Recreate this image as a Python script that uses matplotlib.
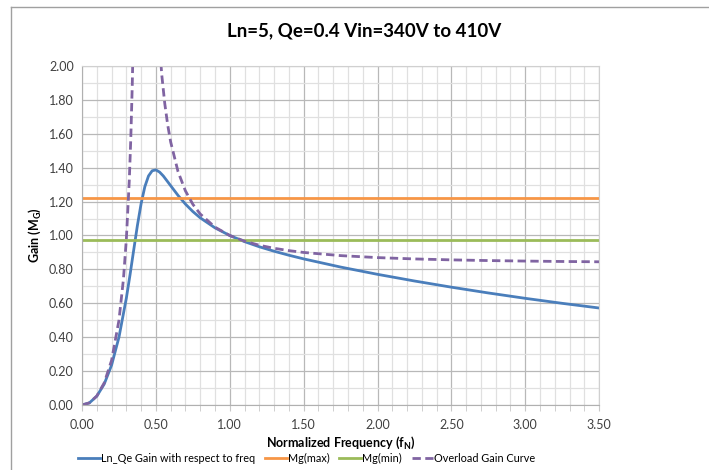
import numpy as np
import matplotlib.pyplot as plt
from matplotlib.lines import Line2D

# Data
fn_gain = [0, 0.05, 0.1, 0.15, 0.2, 0.25, 0.3, 0.325, 0.35, 0.375, 0.4, 0.425,
           0.45, 0.475, 0.5, 0.525, 0.55, 0.6, 0.65, 0.7, 0.75, 0.8, 0.9, 1.0,
           1.1, 1.2, 1.3, 1.4, 1.5, 1.75, 2.0, 2.25, 2.5, 2.75, 3.0, 3.25, 3.5]
gain = [0, 0.0126, 0.0521, 0.1232, 0.2349, 0.4000, 0.6303, 0.7686, 0.9156,
        1.0602, 1.1884, 1.2874, 1.3513, 1.3820, 1.3868, 1.3741, 1.3513, 1.2938,
        1.2363, 1.1852, 1.1414, 1.1043, 1.0451, 1.0, 0.9638, 0.9335, 0.9072,
        0.8836, 0.8620, 0.8138, 0.7709, 0.7316, 0.6951, 0.6610, 0.6293, 0.5998,
        0.5722]

# overload (no-load) curve, two branches either side of the pole
fn_over_lo = [0, 0.05, 0.1, 0.15, 0.2, 0.25, 0.28, 0.3, 0.32, 0.33, 0.34, 0.35, 0.36]
over_lo = [0, 0.0127, 0.0532, 0.1301, 0.2632, 0.5, 0.7402, 0.9783, 1.3278,
           1.5710, 1.8864, 2.3113, 2.9137]
fn_over_hi = [0.5, 0.52, 0.54, 0.56, 0.58, 0.6, 0.65, 0.7, 0.75, 0.8, 0.9, 1.0,
              1.1, 1.2, 1.3, 1.4, 1.5, 1.75, 2.0, 2.25, 2.5, 2.75, 3.0, 3.25, 3.5]
over_hi = [2.5, 2.1722, 1.9451, 1.7786, 1.6516, 1.5517, 1.3762, 1.2629, 1.1842,
           1.1268, 1.0492, 1.0, 0.9665, 0.9424, 0.9245, 0.9108, 0.9, 0.8813,
           0.8696, 0.8617, 0.8562, 0.8521, 0.8491, 0.8467, 0.8448]

mg_max = 1.222
mg_min = 0.974
x_range = [0, 3.5]

plt.rcParams['font.family'] = ['Lato', 'DejaVu Sans']

fig = plt.figure(figsize=(7.09, 4.70), dpi=100)
ax = fig.add_axes([0.1157, 0.1383, 0.7293, 0.7213])

# grid
ax.set_xticks(np.arange(0, 3.51, 0.5))
ax.set_xticks(np.arange(0, 3.51, 0.1), minor=True)
ax.set_yticks(np.arange(0, 2.01, 0.2))
ax.set_yticks(np.arange(0, 2.01, 0.1), minor=True)
ax.grid(which='major', color='#b8b8b8', linewidth=0.9)
ax.grid(which='minor', color='#e0e0e0', linewidth=0.9)
ax.set_axisbelow(True)

ax.plot(fn_gain, gain, color='#4a7ebb', linewidth=2, label='Ln_Qe Gain with respect to freq')
ax.plot(x_range, [mg_max, mg_max], color='#f79646', linewidth=2, label='Mg(max)')
ax.plot(x_range, [mg_min, mg_min], color='#9bbb59', linewidth=2, label='Mg(min)')
ax.plot(fn_over_lo + [np.nan] + fn_over_hi, over_lo + [np.nan] + over_hi,
        color='#8064a2', linewidth=2, linestyle=(0, (3, 1.6)),
        label='Overload Gain Curve')

ax.set_xlim(0, 3.5)
ax.set_ylim(0, 2.0)
ax.xaxis.set_major_formatter(plt.FormatStrFormatter('%.2f'))
ax.yaxis.set_major_formatter(plt.FormatStrFormatter('%.2f'))
ax.tick_params(which='both', length=0, labelsize=9, colors='#404040', pad=6)
ax.tick_params(axis='x', which='both', length=4, color='#c8c8c8')
for s in ['top', 'right']:
    ax.spines[s].set_color('#d0d0d0')
for s in ['left', 'bottom']:
    ax.spines[s].set_color('#b0b0b0')

ax.set_xlabel('Normalized Frequency (f$_\\mathregular{N}$)', fontsize=9,
              fontweight='bold', labelpad=3)
ax.set_ylabel('Gain (M$_\\mathregular{G}$)', fontsize=9, fontweight='bold', labelpad=4)

fig.suptitle('Ln=5, Qe=0.4 Vin=340V to 410V', x=0.514, y=0.952,
             fontsize=13.5, fontweight='bold')

fig.legend(loc='center', bbox_to_anchor=(0.433, 0.024), ncol=4, frameon=False,
           fontsize=7.8, handlelength=2.0, columnspacing=0.9, handletextpad=0.1)

# outer chart border (partial, as in the screenshot)
fig.add_artist(Line2D([10.5 / 709, 1.0], [1 - 7 / 470, 1 - 7 / 470],
                      transform=fig.transFigure, color='#a0a0a0', linewidth=1))
fig.add_artist(Line2D([10.5 / 709, 10.5 / 709], [0, 1 - 7 / 470],
                      transform=fig.transFigure, color='#a0a0a0', linewidth=1))

fig.savefig('out.png', dpi=100)
